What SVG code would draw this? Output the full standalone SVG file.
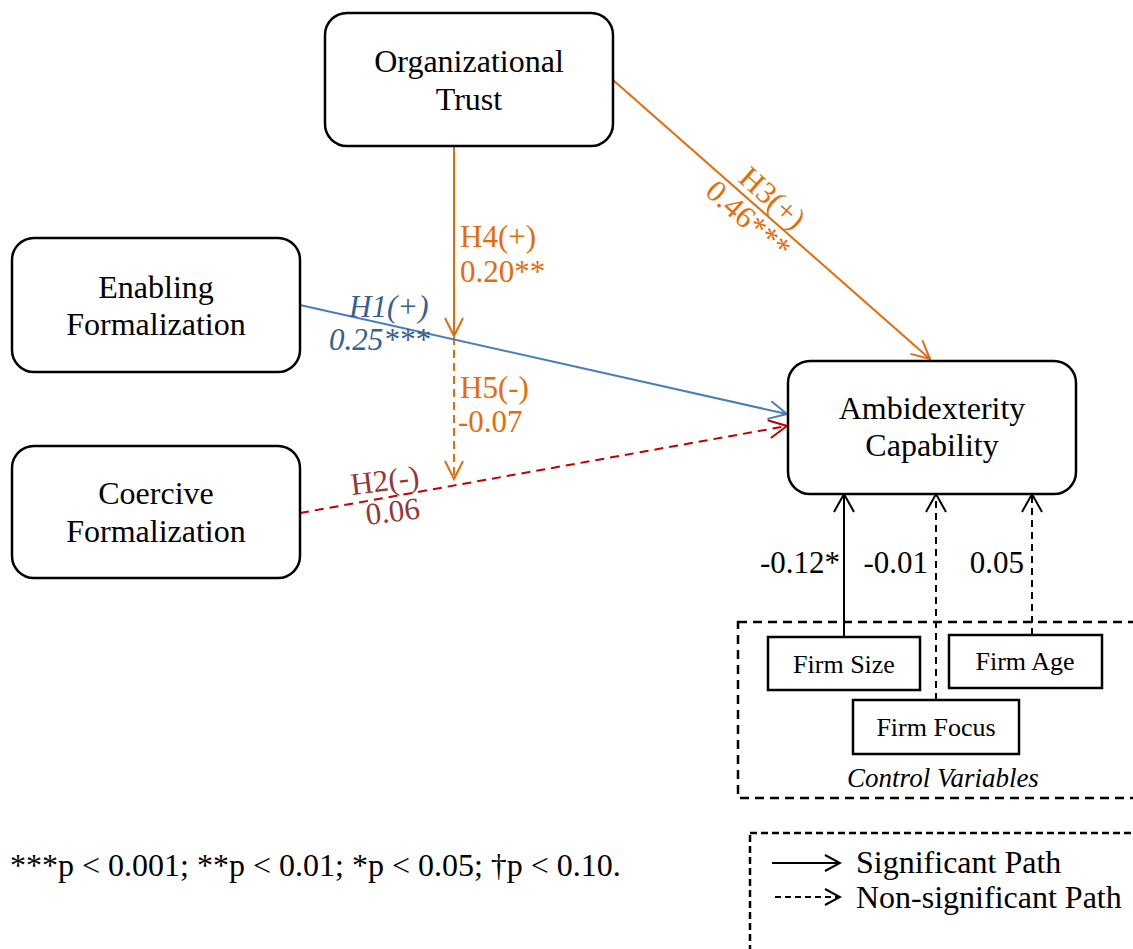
<svg xmlns="http://www.w3.org/2000/svg" width="1133" height="949" viewBox="0 0 1133 949">
<defs>
<style>
text{font-family:"Liberation Serif","Times New Roman",serif;}
.box{fill:#fff;stroke:#000;stroke-width:2.5;}
.sq{fill:#fff;stroke:#000;stroke-width:2.5;}
.nt{font-size:32px;fill:#000;text-anchor:middle;}
.ft{font-size:26px;fill:#000;text-anchor:middle;}
.lbl{font-size:31px;}
.big{font-size:32px;}
.or{fill:#E46C0A;}
.bl{fill:#376092;}
.rd{fill:#953735;}
.k{fill:#000;}
</style>
<marker id="aO" markerUnits="userSpaceOnUse" markerWidth="24" markerHeight="24" viewBox="-20 -12 24 24" refX="0" refY="0" orient="auto"><path d="M-18,-9 L0,0 L-18,9" fill="none" stroke="#E46C0A" stroke-width="2"/></marker>
<marker id="aB" markerUnits="userSpaceOnUse" markerWidth="24" markerHeight="24" viewBox="-20 -12 24 24" refX="0" refY="0" orient="auto"><path d="M-18,-9 L0,0 L-18,9" fill="none" stroke="#4A7EBB" stroke-width="2"/></marker>
<marker id="aR" markerUnits="userSpaceOnUse" markerWidth="24" markerHeight="24" viewBox="-20 -12 24 24" refX="0" refY="0" orient="auto"><path d="M-18,-9 L0,0 L-18,9" fill="none" stroke="#C00000" stroke-width="2"/></marker>
<marker id="aK" markerUnits="userSpaceOnUse" markerWidth="24" markerHeight="24" viewBox="-20 -12 24 24" refX="0" refY="0" orient="auto"><path d="M-18,-10 L0,0 L-18,10" fill="none" stroke="#000" stroke-width="2"/></marker>
<marker id="aL" markerUnits="userSpaceOnUse" markerWidth="20" markerHeight="20" viewBox="-18 -10 20 20" refX="0" refY="0" orient="auto"><path d="M-15,-8 L0,0 L-15,8" fill="none" stroke="#000" stroke-width="2"/></marker>
</defs>
<rect width="1133" height="949" fill="#fff"/>

<g id="control-group">
<rect x="738" y="622" width="420" height="176" fill="none" stroke="#000" stroke-width="2.5" stroke-dasharray="9 6"/>
<text x="943" y="787" style="font-size:27px;font-style:italic;text-anchor:middle;" class="k">Control Variables</text>
</g>

<g id="connectors">
<line x1="454" y1="146" x2="454" y2="336" stroke="#E46C0A" stroke-width="2" marker-end="url(#aO)"/>
<line x1="454" y1="337" x2="454" y2="479" stroke="#E46C0A" stroke-width="2" stroke-dasharray="8 5" marker-end="url(#aO)"/>
<line x1="613" y1="80" x2="930" y2="359" stroke="#E46C0A" stroke-width="2" marker-end="url(#aO)"/>
<line x1="300" y1="305" x2="787" y2="414" stroke="#4A7EBB" stroke-width="2" marker-end="url(#aB)"/>
<line x1="300" y1="513" x2="787" y2="426" stroke="#C00000" stroke-width="2" stroke-dasharray="9 6" marker-end="url(#aR)"/>
<line x1="844" y1="637" x2="844" y2="494" stroke="#000" stroke-width="2" marker-end="url(#aK)"/>
<line x1="936" y1="700" x2="936" y2="494" stroke="#000" stroke-width="2" stroke-dasharray="7 5" marker-end="url(#aK)"/>
<line x1="1032" y1="635" x2="1032" y2="494" stroke="#000" stroke-width="2" stroke-dasharray="7 5" marker-end="url(#aK)"/>

<text x="460" y="247" class="lbl or">H4(+)</text>
<text x="460" y="282" class="lbl or">0.20**</text>
<text x="460" y="398" class="lbl or">H5(-)</text>
<text x="458" y="432" class="lbl or">-0.07</text>
<g transform="translate(761,211) rotate(41.4)">
<text x="0" y="-7" class="lbl or" text-anchor="middle">H3(+)</text>
<text x="-4" y="25" class="lbl or" text-anchor="middle">0.46***</text>
</g>
<text x="349" y="317" class="lbl bl" font-style="italic">H1(+)</text>
<text x="329" y="350" class="lbl bl" font-style="italic">0.25***</text>
<text transform="translate(352,495) rotate(-7)" class="lbl rd">H2(-)</text>
<text transform="translate(367,525) rotate(-7)" class="lbl rd">0.06</text>
<text x="840" y="573" class="lbl k" text-anchor="end">-0.12*</text>
<text x="928" y="573" class="lbl k" text-anchor="end">-0.01</text>
<text x="1024" y="573" class="lbl k" text-anchor="end">0.05</text>
</g>

<g id="org-trust">
<rect x="325" y="13" width="288" height="133" rx="22" class="box"/>
<text class="nt" x="469" y="72">Organizational</text>
<text class="nt" x="469" y="110">Trust</text>
</g>
<g id="enabling">
<rect x="12" y="238" width="288" height="134" rx="22" class="box"/>
<text class="nt" x="156" y="298">Enabling</text>
<text class="nt" x="156" y="335">Formalization</text>
</g>
<g id="coercive">
<rect x="12" y="446" width="288" height="132" rx="22" class="box"/>
<text class="nt" x="156" y="504">Coercive</text>
<text class="nt" x="156" y="542">Formalization</text>
</g>
<g id="ambidexterity">
<rect x="788" y="361" width="288" height="133" rx="22" class="box"/>
<text class="nt" x="932" y="419">Ambidexterity</text>
<text class="nt" x="932" y="456">Capability</text>
</g>
<g id="firm-size">
<rect x="768" y="637" width="152" height="53" class="sq"/>
<text class="ft" x="844" y="673">Firm Size</text>
</g>
<g id="firm-age">
<rect x="949" y="635" width="153" height="53" class="sq"/>
<text class="ft" x="1025" y="670">Firm Age</text>
</g>
<g id="firm-focus">
<rect x="853" y="700" width="166" height="54" class="sq"/>
<text class="ft" x="936" y="736">Firm Focus</text>
</g>

<g id="legend">
<rect x="750" y="833" width="420" height="140" fill="none" stroke="#000" stroke-width="2.5" stroke-dasharray="7 4"/>
<line x1="772" y1="863" x2="840" y2="863" stroke="#000" stroke-width="2" marker-end="url(#aL)"/>
<line x1="775" y1="897" x2="840" y2="897" stroke="#000" stroke-width="2" stroke-dasharray="6 4" marker-end="url(#aL)"/>
<text x="856" y="873" class="big k">Significant Path</text>
<text x="856" y="908" class="big k">Non-significant Path</text>
</g>

<g id="footnote">
<text x="10" y="876" class="big k">***p &lt; 0.001; **p &lt; 0.01; *p &lt; 0.05; †p &lt; 0.10.</text>
</g>
</svg>
